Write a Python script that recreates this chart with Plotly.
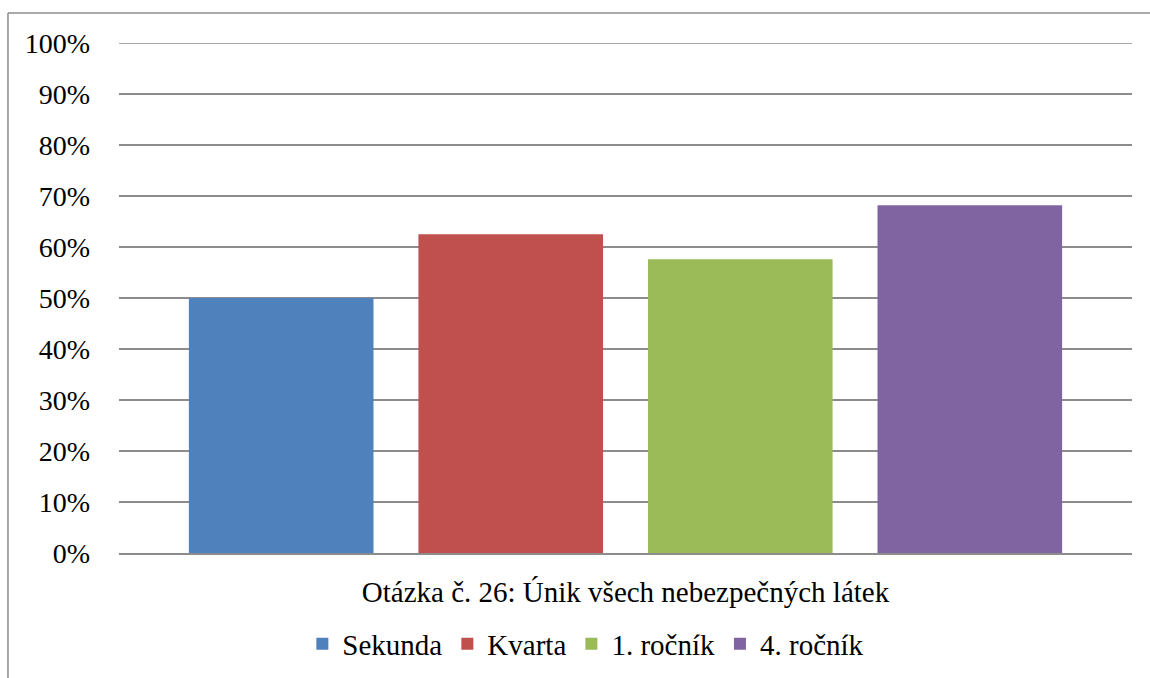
import plotly.graph_objects as go

categories = ["Otázka č. 26: Únik všech nebezpečných látek"]
series_names = ["Sekunda", "Kvarta", "1. ročník", "4. ročník"]
series_values = [[0.50], [0.625], [0.576], [0.682]]
colors = ["#4F81BD", "#C0504D", "#9BBB59", "#8064A2"]
tick_vals = [i / 10 for i in range(11)]
tick_text = [f"{i*10}%" for i in range(11)]

FONT = "Liberation Serif, Times New Roman, serif"

fig = go.Figure()
for name, vals, col in zip(series_names, series_values, colors):
    fig.add_trace(go.Bar(name=name, x=categories, y=vals, marker=dict(color=col, line=dict(width=0))))

border = dict(color="#8c8c8c", width=1.5)
fig.update_layout(
    width=1150, height=678,
    margin=dict(l=119, r=18, t=43, b=125, autoexpand=False),
    paper_bgcolor="white", plot_bgcolor="white",
    barmode="group", bargap=0.0936, bargroupgap=0.1957,
    font=dict(family=FONT, size=28, color="black"),
    showlegend=True,
    legend=dict(orientation="h", x=0.181, xanchor="left", y=-0.128, yanchor="top",
                font=dict(family=FONT, size=29, color="black"),
                itemwidth=30, tracegroupgap=0),
    shapes=[
        dict(type="line", xref="paper", yref="paper", x0=-0.1096, x1=1.05, y0=1.0588, y1=1.0588, line=border),
        dict(type="line", xref="paper", yref="paper", x0=-0.1096, x1=-0.1096, y0=-0.4, y1=1.0588, line=border),
        dict(type="line", xref="paper", yref="y", x0=0, x1=1, y0=1.0, y1=1.0, line=dict(color="#8c8c8c", width=1.5)),
    ],
)
fig.update_yaxes(range=[0, 1.0], tickvals=tick_vals, ticktext=tick_text,
                 showgrid=True, gridcolor="#8c8c8c", gridwidth=1.5, automargin=False,
                 zeroline=False, showline=False, ticks="", ticklabelstandoff=28,
                 tickfont=dict(family=FONT, size=28))
fig.update_xaxes(showgrid=False, showline=True, linecolor="#8c8c8c", linewidth=1.5, automargin=False,
                 ticks="", ticklabelstandoff=12, tickfont=dict(family=FONT, size=29))

fig.write_html("out.html")
